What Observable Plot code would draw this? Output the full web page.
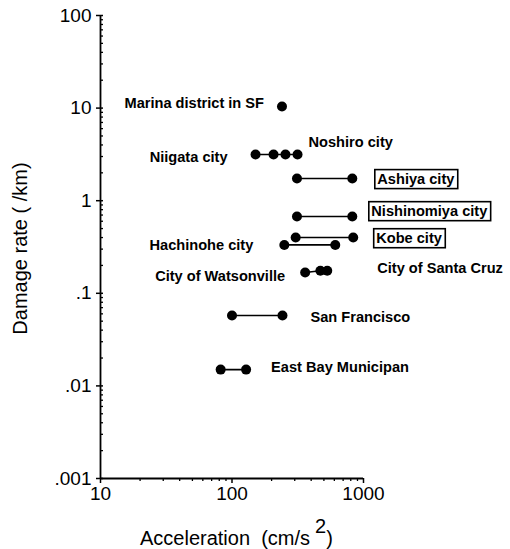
<!DOCTYPE html>
<html><head><meta charset="utf-8">
<script src="https://cdn.jsdelivr.net/npm/d3@7"></script>
<script src="https://cdn.jsdelivr.net/npm/@observablehq/plot@0.6"></script>
<style>body{margin:0;background:#fff} svg{display:block}</style>
</head><body><div id="chart"></div>
<script>
// ---- data ----
const site = [
  "Marina district in SF",
  "Niigata city", "Niigata city", "Niigata city", "Niigata city",
  "Ashiya city", "Ashiya city",
  "Nishinomiya city", "Nishinomiya city",
  "Kobe city", "Kobe city",
  "Hachinohe city", "Hachinohe city",
  "City of Santa Cruz", "City of Santa Cruz", "City of Santa Cruz",
  "San Francisco", "San Francisco",
  "East Bay Municipan", "East Bay Municipan"
];
const accel = [
  240,
  151, 207, 255, 315,
  312, 822,
  312, 822,
  305, 835,
  250, 610,
  360, 470, 530,
  100, 242,
  82, 128
];
const damage = [
  10.4,
  3.15, 3.15, 3.15, 3.15,
  1.74, 1.74,
  0.675, 0.675,
  0.40, 0.40,
  0.333, 0.333,
  0.168, 0.175, 0.175,
  0.0575, 0.0575,
  0.015, 0.015
];
const yTicks = [0.001, 0.01, 0.1, 1, 10, 100];
const yTickLabels = [".001", ".01", ".1", "1", "10", "100"];
const xTicks = [10, 100, 1000];
const xTickLabels = ["10", "100", "1000"];
const labelText = ["Marina district in SF", "Niigata city", "Noshiro city", "Ashiya city",
  "Nishinomiya city", "Kobe city", "Hachinohe city", "City of Watsonville",
  "City of Santa Cruz", "San Francisco", "East Bay Municipan"];
const labelSite = ["Marina district in SF", "Niigata city", "Niigata city", "Ashiya city",
  "Nishinomiya city", "Kobe city", "Hachinohe city", "City of Santa Cruz",
  "City of Santa Cruz", "San Francisco", "East Bay Municipan"];
const labelEnd = ["first", "first", "last", "last", "last", "last", "first", "first", "last", "last", "last"];
const boxedLabels = ["Ashiya city", "Nishinomiya city", "Kobe city"];
const yTitle = "Damage rate ( /km)";
const xTitle = ["Acceleration  (cm/s", "2", ")"];

// ---- layout (label offsets in px, anchors) ----
const labelLayout = [
  {anchor: "end", dx: -18, dy: -3},
  {anchor: "end", dx: -28, dy: 3},
  {anchor: "start", dx: 11, dy: -12},
  {anchor: "start", dx: 25, dy: 1},
  {anchor: "start", dx: 19, dy: -5},
  {anchor: "start", dx: 23, dy: 1},
  {anchor: "end", dx: -31, dy: 0},
  {anchor: "end", dx: -20, dy: 4},
  {anchor: "start", dx: 50, dy: -2},
  {anchor: "start", dx: 28, dy: 2},
  {anchor: "start", dx: 25, dy: -2}
];

const points = site.map((s, i) => ({site: s, accel: accel[i], damage: damage[i]}));
function minorTicks(lo, hi) {
  const t = [];
  for (let d = lo; d < hi * 0.999; d *= 10) for (let m = 2; m <= 9; m++) t.push(m * d);
  return t;
}
const yMinor = minorTicks(0.001, 100);
const xMinor = minorTicks(10, 1000);

const labelMarks = labelText.map((txt, i) => {
  const grp = points.filter(p => p.site === labelSite[i]);
  const pt = labelEnd[i] === "first" ? grp[0] : grp[grp.length - 1];
  const L = labelLayout[i];
  return Plot.text([pt], {
    x: "accel", y: "damage", text: [txt],
    textAnchor: L.anchor, dx: L.dx, dy: L.dy,
    fontSize: 14.6, fontWeight: "bold"
  });
});

const font = "'Liberation Sans', Arial, Helvetica, sans-serif";
const plot = Plot.plot({
  width: 510, height: 549,
  marginLeft: 100, marginRight: 147, marginTop: 15, marginBottom: 71,
  style: {fontFamily: font, background: "white", color: "black", overflow: "visible"},
  x: {type: "log", domain: [10, 1000], label: null},
  y: {type: "log", domain: [0.001, 100], label: null},
  marks: [
    Plot.axisY(yMinor, {anchor: "left", tickSize: 3, dx: 3, tickFormat: () => "", strokeWidth: 1.3}),
    Plot.axisY(yTicks, {anchor: "left", tickSize: 7, dx: 3, tickFormat: () => "", strokeWidth: 1.5}),
    Plot.axisY(yTicks, {anchor: "left", tickSize: 0, tickPadding: 9, fontSize: 19,
      tickFormat: d => yTickLabels[yTicks.indexOf(d)]}),
    Plot.axisX(xMinor, {anchor: "bottom", tickSize: 3, tickFormat: () => "", strokeWidth: 1.3}),
    Plot.axisX(xTicks, {anchor: "bottom", tickSize: 5, tickFormat: () => "", strokeWidth: 1.5}),
    Plot.axisX(xTicks, {anchor: "bottom", tickSize: 0, tickPadding: 8, fontSize: 19,
      tickFormat: d => xTickLabels[xTicks.indexOf(d)]}),
    Plot.ruleX([10], {y1: 0.001, y2: 100, strokeWidth: 1.8}),
    Plot.ruleY([0.001], {x1: 10, x2: 1000, strokeWidth: 1.8}),
    Plot.line(points, {x: "accel", y: "damage", z: "site", stroke: "black", strokeWidth: 1.6}),
    Plot.dot(points, {x: "accel", y: "damage", r: 5, fill: "black"}),
    ...labelMarks,
    Plot.text([yTitle], {frameAnchor: "left", textAnchor: "middle", rotate: -90, dx: -80, dy: 1.5,
      text: d => d, fontSize: 20})
  ]
});
document.getElementById("chart").appendChild(plot);

// boxes around the highlighted labels
const svg = d3.select(plot);
svg.selectAll("text").each(function () {
  if (!boxedLabels.includes(this.textContent)) return;
  const b = this.getBBox();
  d3.select(this.parentNode).insert("rect", () => this)
    .attr("x", b.x - 2.5).attr("y", b.y - 1.5)
    .attr("width", b.width + 5).attr("height", b.height + 3)
    .attr("fill", "none").attr("stroke", "black").attr("stroke-width", 1.6)
    .attr("transform", this.getAttribute("transform"));
});

// x axis title with a large raised "2"
const xt = svg.append("text")
  .attr("x", 140).attr("y", 545).attr("text-anchor", "start")
  .attr("font-family", font).attr("font-size", 20).attr("fill", "black");
xt.append("tspan").text(xTitle[0]);
xt.append("tspan").attr("dx", 5).attr("dy", -12).text(xTitle[1]);
xt.append("tspan").attr("dy", 12).text(xTitle[2]);
</script>
</body></html>
